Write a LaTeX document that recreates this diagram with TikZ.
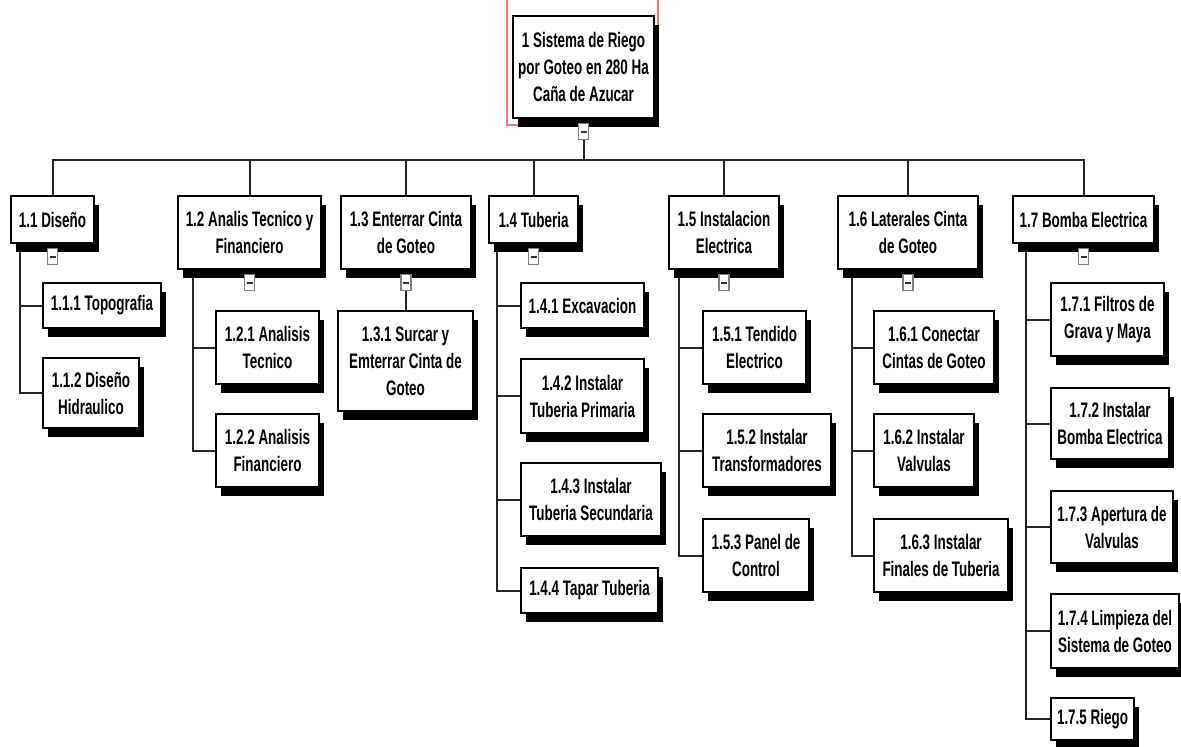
\documentclass[tikz,border=0pt]{standalone}
\usepackage{fontspec}
\newfontfamily\wbsfont{Liberation Sans}[FakeStretch=0.64]
\usetikzlibrary{shadows,backgrounds}
\begin{document}
\begin{tikzpicture}[x=1pt,y=-1pt,
  box/.style={draw=black, line width=2pt, fill=white, anchor=north west, inner sep=0pt,
    align=center, font=\wbsfont\bfseries\fontsize{21}{27}\selectfont,
    drop shadow={shadow xshift=5pt, shadow yshift=-9pt, opacity=1, fill=black}},
  minusbox/.style={draw=gray, fill=white, line width=1.2pt, minimum width=10pt, minimum height=16pt, inner sep=0pt},
  dashmark/.style={draw=black!80, line width=2pt},
  conn/.style={draw=black!85, line width=2pt},
  redframe/.style={draw=red!55!white, line width=1.4pt}]
\useasboundingbox (0,0) rectangle (1181,747);

\newcommand{\wbsbox}[6]{\node[box, minimum width=#4pt, minimum height=#5pt] (#1) at (#2,#3) {#6};}
\newcommand{\wbsminus}[2]{\node[minusbox, anchor=north] (m#1) at ([yshift=-4pt]#2.south) {};
  \draw[dashmark] ([xshift=-3pt]m#1.center) -- ([xshift=3pt]m#1.center);}

% red selection frame
\draw[redframe] (507,-3) rectangle (658,125);

% root
\wbsbox{n1}{512}{15}{141}{102}{1 Sistema de Riego\\por Goteo en 280 Ha\\Caña de Azucar}

% 1.1
\wbsbox{n11}{10}{195}{83}{47}{1.1 Diseño}
\wbsbox{n111}{42}{282}{118}{45}{1.1.1 Topografia}
\wbsbox{n112}{42}{357}{96}{70}{1.1.2 Diseño\\Hidraulico}
% 1.2
\wbsbox{n12}{177}{195}{143}{73}{1.2 Analis Tecnico y\\Financiero}
\wbsbox{n121}{215}{310}{103}{73}{1.2.1 Analisis\\Tecnico}
\wbsbox{n122}{215}{413}{103}{73}{1.2.2 Analisis\\Financiero}
% 1.3
\wbsbox{n13}{340}{195}{130}{73}{1.3 Enterrar Cinta\\de Goteo}
\wbsbox{n131}{337}{310}{135}{100}{1.3.1 Surcar y\\Emterrar Cinta de\\Goteo}
% 1.4
\wbsbox{n14}{488}{195}{89}{47}{1.4 Tuberia}
\wbsbox{n141}{520}{282}{123}{45}{1.4.1 Excavacion}
\wbsbox{n142}{520}{358}{123}{74}{1.4.2 Instalar\\Tuberia Primaria}
\wbsbox{n143}{520}{462}{140}{73}{1.4.3 Instalar\\Tuberia Secundaria}
\wbsbox{n144}{520}{567}{137}{45}{1.4.4 Tapar Tuberia}
% 1.5
\wbsbox{n15}{668}{195}{110}{73}{1.5 Instalacion\\Electrica}
\wbsbox{n151}{702}{310}{103}{73}{1.5.1 Tendido\\Electrico}
\wbsbox{n152}{702}{413}{128}{73}{1.5.2 Instalar\\Transformadores}
\wbsbox{n153}{702}{518}{106}{73}{1.5.3 Panel de\\Control}
% 1.6
\wbsbox{n16}{837}{195}{140}{73}{1.6 Laterales Cinta\\de Goteo}
\wbsbox{n161}{873}{310}{120}{73}{1.6.1 Conectar\\Cintas de Goteo}
\wbsbox{n162}{873}{413}{100}{73}{1.6.2 Instalar\\Valvulas}
\wbsbox{n163}{873}{518}{134}{73}{1.6.3 Instalar\\Finales de Tuberia}
% 1.7
\wbsbox{n17}{1012}{195}{141}{47}{1.7 Bomba Electrica}
\wbsbox{n171}{1050}{282}{113}{73}{1.7.1 Filtros de\\Grava y Maya}
\wbsbox{n172}{1050}{387}{118}{71}{1.7.2 Instalar\\Bomba Electrica}
\wbsbox{n173}{1050}{490}{122}{72}{1.7.3 Apertura de\\Valvulas}
\wbsbox{n174}{1050}{593}{128}{74}{1.7.4 Limpieza del\\Sistema de Goteo}
\wbsbox{n175}{1050}{697}{83}{42}{1.7.5 Riego}

% minus (collapse) markers
\wbsminus{1}{n1}
\wbsminus{11}{n11}
\wbsminus{12}{n12}
\wbsminus{13}{n13}
\wbsminus{14}{n14}
\wbsminus{15}{n15}
\wbsminus{16}{n16}
\wbsminus{17}{n17}

% connectors behind everything
\begin{scope}[on background layer]
\fill[white] (0,0) rectangle (1181,747);
\coordinate (bus) at ([yshift=-20pt]m1.south);
\draw[conn] (m1.south) -- (bus);
\foreach \n in {n11,n12,n13,n14,n15,n16,n17}
  \draw[conn] (\n.north) |- (bus);
% 1.1
\draw[conn] ([xshift=10pt]n11.south west) |- (n111.west);
\draw[conn] ([xshift=10pt]n11.south west) |- (n112.west);
% 1.2
\draw[conn] ([xshift=16pt]n12.south west) |- (n121.west);
\draw[conn] ([xshift=16pt]n12.south west) |- (n122.west);
% 1.3
\draw[conn] (m13.south) -- (m13.south |- n131.north);
% 1.4
\foreach \c in {n141,n142,n143,n144}
  \draw[conn] ([xshift=9pt]n14.south west) |- (\c.west);
% 1.5
\foreach \c in {n151,n152,n153}
  \draw[conn] ([xshift=11pt]n15.south west) |- (\c.west);
% 1.6
\foreach \c in {n161,n162,n163}
  \draw[conn] ([xshift=15pt]n16.south west) |- (\c.west);
% 1.7
\foreach \c in {n171,n172,n173,n174,n175}
  \draw[conn] ([xshift=14pt]n17.south west) |- (\c.west);
\end{scope}
\end{tikzpicture}%
\end{document}
